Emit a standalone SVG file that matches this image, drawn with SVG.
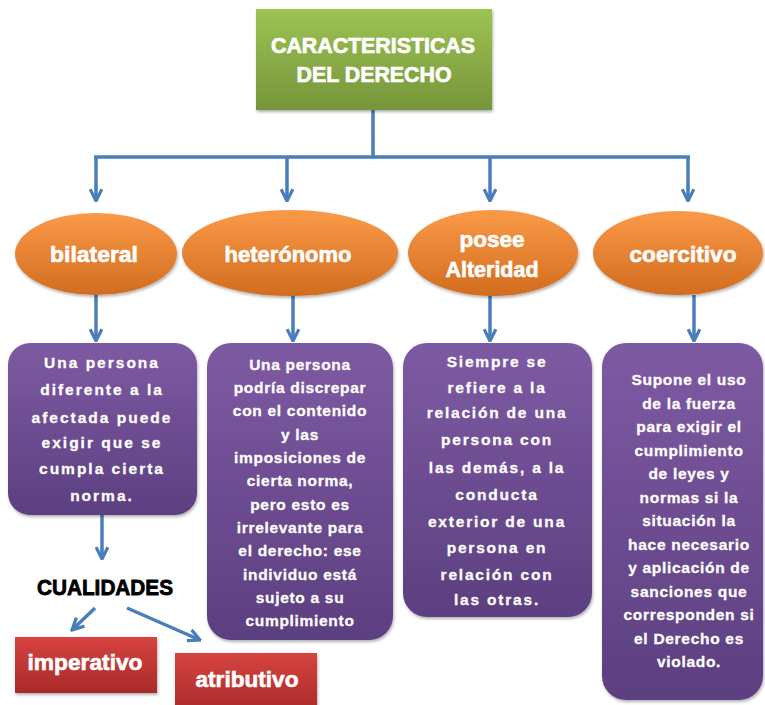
<svg xmlns="http://www.w3.org/2000/svg" width="765" height="705" viewBox="0 0 765 705">
<defs>
<linearGradient id="gGreen" x1="0" y1="0" x2="0" y2="1"><stop offset="0" stop-color="#9dc353"/><stop offset="1" stop-color="#76953a"/></linearGradient>
<linearGradient id="gOrange" x1="0" y1="0" x2="0" y2="1"><stop offset="0" stop-color="#fa9a48"/><stop offset="1" stop-color="#d26c1f"/></linearGradient>
<linearGradient id="gPurple" x1="0" y1="0" x2="0" y2="1"><stop offset="0" stop-color="#7e5aa3"/><stop offset="1" stop-color="#5c3f80"/></linearGradient>
<linearGradient id="gRed" x1="0" y1="0" x2="0" y2="1"><stop offset="0" stop-color="#d6433f"/><stop offset="1" stop-color="#a82a2a"/></linearGradient>
<filter id="sh" x="-10%" y="-10%" width="130%" height="130%"><feDropShadow dx="1" dy="2" stdDeviation="1.5" flood-color="#000" flood-opacity="0.3"/></filter>
<marker id="arr" viewBox="0 0 10 10" refX="9" refY="5" markerWidth="4.2" markerHeight="4.2" orient="auto" markerUnits="strokeWidth">
<path d="M1,1 L9,5 L1,9" fill="none" stroke="#4a7ebb" stroke-width="2.2" stroke-linejoin="miter"/>
</marker>
<style>
.lnk{fill:none;stroke:#4a7ebb;stroke-width:3.5}
.t{font-family:"Liberation Sans",Arial,sans-serif;font-weight:bold;fill:#fff;text-anchor:middle}
.hd{font-size:22px;stroke:#fff;stroke-width:0.7}
.ov{font-size:22px;stroke:#fff;stroke-width:0.6}
.bx{font-size:15.5px;stroke:#fff;stroke-width:0.3}
.cual{font-family:"Liberation Sans",Arial,sans-serif;font-weight:bold;fill:#000;stroke:#000;stroke-width:0.8;font-size:22px;text-anchor:middle}
</style>
</defs>
<rect width="765" height="705" fill="#fff"/>

<g id="connectors">
<path class="lnk" d="M373,110 V157 M94,157 H690"/>
<path class="lnk" d="M96,157 V201" marker-end="url(#arr)"/>
<path class="lnk" d="M287,157 V201" marker-end="url(#arr)"/>
<path class="lnk" d="M490,157 V201" marker-end="url(#arr)"/>
<path class="lnk" d="M688,157 V201" marker-end="url(#arr)"/>
<path class="lnk" d="M96,295 V341" marker-end="url(#arr)"/>
<path class="lnk" d="M293,295 V341" marker-end="url(#arr)"/>
<path class="lnk" d="M490,295 V341" marker-end="url(#arr)"/>
<path class="lnk" d="M694,295 V341" marker-end="url(#arr)"/>
<path class="lnk" d="M102,515 V559" marker-end="url(#arr)"/>
<path class="lnk" d="M95,608 L72,630" marker-end="url(#arr)"/>
<path class="lnk" d="M127,608 L200,640" marker-end="url(#arr)"/>
</g>

<g id="title">
<rect x="256" y="9" width="236" height="101" fill="url(#gGreen)" filter="url(#sh)"/>
<text class="t hd" x="373" y="53" textLength="204" lengthAdjust="spacingAndGlyphs">CARACTERISTICAS</text>
<text class="t hd" x="374" y="82" textLength="155" lengthAdjust="spacingAndGlyphs">DEL DERECHO</text>
</g>

<g id="bilateral">
<ellipse cx="96" cy="254" rx="81" ry="41" fill="url(#gOrange)" filter="url(#sh)"/>
<text class="t ov" x="94" y="262" textLength="88" lengthAdjust="spacingAndGlyphs">bilateral</text>
</g>
<g id="heteronomo">
<ellipse cx="290" cy="253" rx="108" ry="43" fill="url(#gOrange)" filter="url(#sh)"/>
<text class="t ov" x="288" y="262" textLength="127" lengthAdjust="spacingAndGlyphs">heterónomo</text>
</g>
<g id="alteridad">
<ellipse cx="493" cy="253" rx="85" ry="43" fill="url(#gOrange)" filter="url(#sh)"/>
<text class="t ov" x="492" y="247" textLength="65" lengthAdjust="spacingAndGlyphs">posee</text>
<text class="t ov" x="492" y="277" textLength="93" lengthAdjust="spacingAndGlyphs">Alteridad</text>
</g>
<g id="coercitivo">
<ellipse cx="678" cy="253" rx="85" ry="42" fill="url(#gOrange)" filter="url(#sh)"/>
<text class="t ov" x="683" y="262" textLength="107" lengthAdjust="spacingAndGlyphs">coercitivo</text>
</g>

<g id="desc-bilateral">
<rect x="8" y="343" width="189" height="172" rx="22" fill="url(#gPurple)" filter="url(#sh)"/>
<g class="t bx" style="letter-spacing:2px">
<text x="102" y="368">Una persona</text>
<text x="102" y="395">diferente a la</text>
<text x="102" y="423">afectada puede</text>
<text x="102" y="448">exigir que se</text>
<text x="102" y="474">cumpla cierta</text>
<text x="102" y="501">norma.</text>
</g>
</g>

<g id="desc-heteronomo">
<rect x="207" y="343" width="186" height="297" rx="24" fill="url(#gPurple)" filter="url(#sh)"/>
<g class="t bx" style="letter-spacing:0.7px">
<text x="300" y="370">Una persona</text>
<text x="300" y="393">podría discrepar</text>
<text x="300" y="416">con el contenido</text>
<text x="300" y="440">y las</text>
<text x="300" y="463">imposiciones de</text>
<text x="300" y="486">cierta norma,</text>
<text x="300" y="510">pero esto es</text>
<text x="300" y="533">irrelevante para</text>
<text x="300" y="556">el derecho: ese</text>
<text x="300" y="580">individuo está</text>
<text x="300" y="603">sujeto a su</text>
<text x="300" y="626">cumplimiento</text>
</g>
</g>

<g id="desc-alteridad">
<rect x="403" y="343" width="189" height="274" rx="24" fill="url(#gPurple)" filter="url(#sh)"/>
<g class="t bx" style="letter-spacing:1.8px">
<text x="497" y="367">Siempre se</text>
<text x="497" y="393">refiere a la</text>
<text x="497" y="418">relación de una</text>
<text x="497" y="445">persona con</text>
<text x="497" y="473">las demás, a la</text>
<text x="497" y="500">conducta</text>
<text x="497" y="527">exterior de una</text>
<text x="497" y="553">persona en</text>
<text x="497" y="580">relación con</text>
<text x="497" y="605">las otras.</text>
</g>
</g>

<g id="desc-coercitivo">
<rect x="602" y="343" width="161" height="357" rx="24" fill="url(#gPurple)" filter="url(#sh)"/>
<g class="t bx" style="letter-spacing:0.7px">
<text x="689" y="385">Supone el  uso</text>
<text x="689" y="409">de la fuerza</text>
<text x="689" y="432">para exigir el</text>
<text x="689" y="456">cumplimiento</text>
<text x="689" y="479">de leyes y</text>
<text x="689" y="503">normas si la</text>
<text x="689" y="526">situación la</text>
<text x="689" y="550">hace necesario</text>
<text x="689" y="573">y aplicación de</text>
<text x="689" y="597">sanciones que</text>
<text x="689" y="620">corresponden si</text>
<text x="689" y="644">el Derecho es</text>
<text x="689" y="667">violado.</text>
</g>
</g>

<g id="cualidades">
<text class="cual" x="105" y="595" textLength="136" lengthAdjust="spacingAndGlyphs">CUALIDADES</text>
</g>

<g id="imperativo">
<rect x="15" y="637" width="142" height="56" fill="url(#gRed)" filter="url(#sh)"/>
<text class="t ov" x="85" y="670" textLength="115" lengthAdjust="spacingAndGlyphs">imperativo</text>
</g>
<g id="atributivo">
<rect x="175" y="653" width="142" height="60" fill="url(#gRed)" filter="url(#sh)"/>
<text class="t ov" x="247" y="687" textLength="103" lengthAdjust="spacingAndGlyphs">atributivo</text>
</g>
</svg>
